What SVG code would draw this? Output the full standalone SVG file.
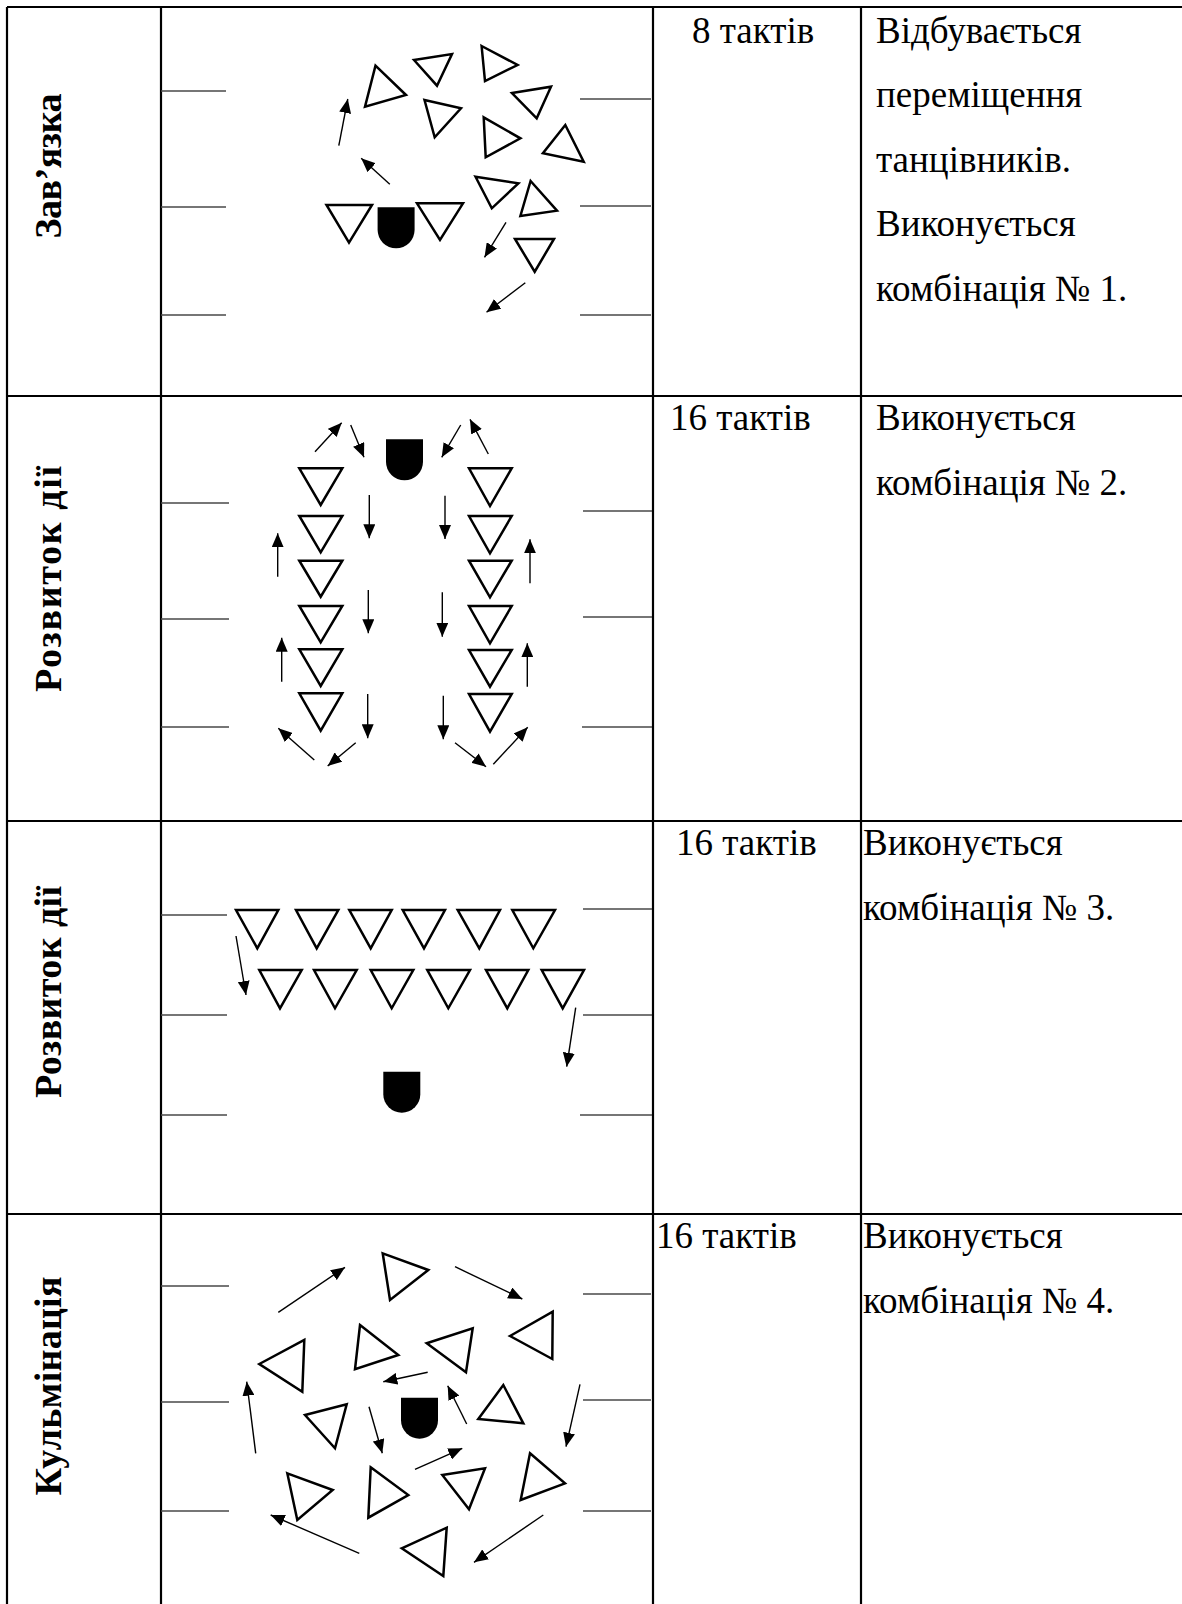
<svg xmlns="http://www.w3.org/2000/svg" width="1182" height="1604" viewBox="0 0 1182 1604">
<style>
.grid{stroke:#000;stroke-width:2.2;fill:none}
.field{stroke:#4a4a4a;stroke-width:1.6;fill:none}
.d{fill:#fff;stroke:#000;stroke-width:2.5;stroke-linejoin:miter}
.u{fill:#000;stroke:none}
.arr{stroke:#000;stroke-width:1.4;fill:none;marker-end:url(#ah)}
.lbl{font-family:"Liberation Serif","Times New Roman",serif;font-weight:bold;font-size:38px;fill:#000}
.txt{font-family:"Liberation Serif","Times New Roman",serif;font-size:37px;fill:#000}
</style>
<defs>
<marker id="ah" viewBox="0 0 14 12" refX="14" refY="6" markerWidth="14" markerHeight="12" markerUnits="userSpaceOnUse" orient="auto">
<path d="M0 0L14 6L0 12Z" fill="#000"/>
</marker>
<path id="ushape" d="M0 0H37V22.5A18.5 18.5 0 0 1 0 22.5Z"/>
</defs>
<rect width="1182" height="1604" fill="#fff"/>
<g id="table">
<path class="grid" d="M7 7H1190M7 396H1190M7 821H1190M7 1214H1190M7 7V1610M161 7V1610M653 7V1610M861 7V1610"/>
</g>
<g id="field-lines">
<path class="field" d="M161 91H226M161 207H226M161 315H226M580 99H651M580 206H651M580 315H651"/>
<path class="field" d="M161 503H229M161 619H229M161 727H229M583 511H652M583 617H652M582 727H652"/>
<path class="field" d="M161 915H227M161 1015H227M161 1115H227M583 909H652M583 1015H652M580 1115H652"/>
<path class="field" d="M161 1286H229M161 1402H229M161 1511H229M583 1294H651M583 1400H651M583 1511H651"/>
</g>
<g id="labels">
<text class="lbl" text-anchor="middle" textLength="145" transform="translate(61,166) rotate(-90)">Зав’язка</text>
<text class="lbl" text-anchor="middle" textLength="226" transform="translate(61,579) rotate(-90)">Розвиток дії</text>
<text class="lbl" text-anchor="middle" textLength="212" transform="translate(61,992) rotate(-90)">Розвиток дії</text>
<text class="lbl" text-anchor="middle" textLength="219" transform="translate(61,1386) rotate(-90)">Кульмінація</text>
</g>
<g id="texts" class="txt">
<text x="692" y="43">8 тактів</text>
<text x="876" y="43">Відбувається</text>
<text x="876" y="107">переміщення</text>
<text x="876" y="172">танцівників.</text>
<text x="876" y="236">Виконується</text>
<text x="876" y="301">комбінація № 1.</text>
<text x="670" y="430">16 тактів</text>
<text x="876" y="430">Виконується</text>
<text x="876" y="495">комбінація № 2.</text>
<text x="676" y="855">16 тактів</text>
<text x="863" y="855">Виконується</text>
<text x="863" y="920">комбінація № 3.</text>
<text x="656" y="1248">16 тактів</text>
<text x="863" y="1248">Виконується</text>
<text x="863" y="1313">комбінація № 4.</text>
</g>
<g id="row1">
<g id="r1-d1"><polygon class="d" points="375.5,65.7 406,95 365,106.7"/></g>
<g id="r1-d2"><polygon class="d" points="414,60 452,54 437,85.7"/></g>
<g id="r1-d3"><polygon class="d" points="481.6,46 517.6,65 485,81"/></g>
<g id="r1-d4"><polygon class="d" points="512,93 551,86.7 536.7,118.3"/></g>
<g id="r1-d5"><polygon class="d" points="424.5,100 461,108.3 434.7,137.3"/></g>
<g id="r1-d6"><polygon class="d" points="483.7,117.3 520.4,138.3 485.7,157.3"/></g>
<g id="r1-d7"><polygon class="d" points="565.3,125 583.7,161.7 542.9,153.3"/></g>
<g id="r1-d8"><polygon class="d" points="475.5,176.7 518.4,183.3 491.8,208.3"/></g>
<g id="r1-d9"><polygon class="d" points="530.6,181 557,210.7 520.4,216"/></g>
<g id="r1-d10"><polygon class="d" points="515,239 554,239 534.7,271.7"/></g>
<g id="r1-d11"><polygon class="d" points="326.5,205 372,205 349,242.7"/></g>
<g id="r1-d12"><polygon class="d" points="417,203.3 463,203.3 440,240"/></g>
<g id="r1-soloist"><use href="#ushape" class="u" x="377.6" y="207.3"/></g>
</g>
<g id="row2">
<g id="r2-l1"><polygon class="d" points="299.3,468.3 342.3,468.3 320.7,505"/></g>
<g id="r2-l2"><polygon class="d" points="299.3,516 342.3,516 320.7,552.3"/></g>
<g id="r2-l3"><polygon class="d" points="299.3,560.7 342.3,560.7 320.7,596.7"/></g>
<g id="r2-l4"><polygon class="d" points="299.3,606 342.3,606 320.7,642.3"/></g>
<g id="r2-l5"><polygon class="d" points="299.3,649.3 342.3,649.3 320.7,686"/></g>
<g id="r2-l6"><polygon class="d" points="299.3,693.3 342.3,693.3 320.7,730.7"/></g>
<g id="r2-r1"><polygon class="d" points="469,468.3 511.7,468.3 490,506"/></g>
<g id="r2-r2"><polygon class="d" points="469,516 511.7,516 490,553.3"/></g>
<g id="r2-r3"><polygon class="d" points="469,560.7 511.7,560.7 490,597.3"/></g>
<g id="r2-r4"><polygon class="d" points="469,606 511.7,606 490,643.3"/></g>
<g id="r2-r5"><polygon class="d" points="469,650 511.7,650 490,686.7"/></g>
<g id="r2-r6"><polygon class="d" points="469,694 511.7,694 490,731.7"/></g>
<g id="r2-soloist"><use href="#ushape" class="u" x="386" y="439.3"/></g>
</g>
<g id="row3">
<g id="r3-a1"><polygon class="d" points="236,910 278.3,910 257.3,948.3"/></g>
<g id="r3-a2"><polygon class="d" points="296,910 338.3,910 316.7,948.3"/></g>
<g id="r3-a3"><polygon class="d" points="349.3,910 391.7,910 370.7,948.3"/></g>
<g id="r3-a4"><polygon class="d" points="402.7,910 445,910 424,948.3"/></g>
<g id="r3-a5"><polygon class="d" points="457.7,910 500,910 479.3,948.3"/></g>
<g id="r3-a6"><polygon class="d" points="512.3,910 555,910 533.3,948.3"/></g>
<g id="r3-b1"><polygon class="d" points="259.3,970 301.7,970 280,1008.3"/></g>
<g id="r3-b2"><polygon class="d" points="314,970 356.7,970 335,1008.3"/></g>
<g id="r3-b3"><polygon class="d" points="370.7,970 413.3,970 391.7,1008.3"/></g>
<g id="r3-b4"><polygon class="d" points="427.3,970 470,970 448.3,1008.3"/></g>
<g id="r3-b5"><polygon class="d" points="486,970 528.3,970 507.3,1008.3"/></g>
<g id="r3-b6"><polygon class="d" points="541.7,970 584,970 562.7,1008.3"/></g>
<g id="r3-soloist"><use href="#ushape" class="u" x="383.3" y="1071.7"/></g>
</g>
<g id="row4">
<g id="r4-d1"><polygon class="d" points="382.7,1253.3 428.3,1270 390,1300"/></g>
<g id="r4-d2"><polygon class="d" points="360,1325 398.3,1355 355,1369.3"/></g>
<g id="r4-d3"><polygon class="d" points="426.7,1343.3 472.7,1328.3 466,1372.3"/></g>
<g id="r4-d4"><polygon class="d" points="510,1336 552.7,1311.7 552.3,1359"/></g>
<g id="r4-d5"><polygon class="d" points="259.3,1364 304.3,1340 302.3,1391.7"/></g>
<g id="r4-d6"><polygon class="d" points="305,1415 346.7,1404.3 335,1448.3"/></g>
<g id="r4-d7"><polygon class="d" points="503.3,1385 523.3,1423.3 478.3,1419"/></g>
<g id="r4-d8"><polygon class="d" points="287.3,1473.3 332.7,1490 297.3,1520"/></g>
<g id="r4-d9"><polygon class="d" points="370.7,1467.3 408.3,1495 368.3,1517.7"/></g>
<g id="r4-d10"><polygon class="d" points="442.3,1475 485,1468.3 469,1509.3"/></g>
<g id="r4-d11"><polygon class="d" points="530,1453.3 565,1483.3 520.7,1500"/></g>
<g id="r4-d12"><polygon class="d" points="401.7,1548.3 446.7,1527.7 443.3,1576"/></g>
<g id="r4-soloist"><use href="#ushape" class="u" x="401" y="1397.7"/></g>
</g>
<g id="connectors">
<line class="arr" x1="338.8" y1="145.7" x2="347.8" y2="99"/>
<line class="arr" x1="389.8" y1="184.3" x2="361.2" y2="158.3"/>
<line class="arr" x1="506" y1="222.3" x2="484.5" y2="257.3"/>
<line class="arr" x1="525.3" y1="282.7" x2="486.5" y2="312.3"/>
<line class="arr" x1="315" y1="451.7" x2="341.7" y2="422.7"/>
<line class="arr" x1="350.7" y1="425" x2="364" y2="457.3"/>
<line class="arr" x1="460.7" y1="425" x2="441.7" y2="457.3"/>
<line class="arr" x1="488.3" y1="454" x2="470" y2="419.3"/>
<line class="arr" x1="369.3" y1="495" x2="369.3" y2="538.3"/>
<line class="arr" x1="445" y1="495.7" x2="445" y2="539"/>
<line class="arr" x1="277.7" y1="576.7" x2="277.7" y2="533.3"/>
<line class="arr" x1="530" y1="583.3" x2="530" y2="539.3"/>
<line class="arr" x1="368.3" y1="590" x2="368.3" y2="633.3"/>
<line class="arr" x1="442.3" y1="592.3" x2="442.3" y2="636.7"/>
<line class="arr" x1="281.7" y1="681.7" x2="281.7" y2="637.7"/>
<line class="arr" x1="527.3" y1="686.7" x2="527.3" y2="643.3"/>
<line class="arr" x1="367.7" y1="694" x2="367.7" y2="738.3"/>
<line class="arr" x1="443.3" y1="695.7" x2="443.3" y2="739.3"/>
<line class="arr" x1="314.3" y1="760" x2="278.3" y2="728.3"/>
<line class="arr" x1="355.7" y1="742.7" x2="327.7" y2="766"/>
<line class="arr" x1="455" y1="742.7" x2="486" y2="766.7"/>
<line class="arr" x1="493.3" y1="764.3" x2="527.7" y2="727.3"/>
<line class="arr" x1="236" y1="936" x2="246" y2="995"/>
<line class="arr" x1="575.7" y1="1007.7" x2="566.7" y2="1066.7"/>
<line class="arr" x1="278.3" y1="1312.3" x2="345" y2="1267.3"/>
<line class="arr" x1="455" y1="1266.7" x2="522.3" y2="1299"/>
<line class="arr" x1="580" y1="1384.3" x2="566" y2="1446.7"/>
<line class="arr" x1="543.3" y1="1515" x2="474" y2="1562.3"/>
<line class="arr" x1="359.3" y1="1553.3" x2="270.7" y2="1515"/>
<line class="arr" x1="255.7" y1="1453.3" x2="246.7" y2="1381.7"/>
<line class="arr" x1="427.7" y1="1372.3" x2="383.3" y2="1381.7"/>
<line class="arr" x1="369" y1="1406.7" x2="382.3" y2="1453.3"/>
<line class="arr" x1="415" y1="1469.3" x2="462.3" y2="1448.3"/>
<line class="arr" x1="466.7" y1="1424" x2="447.7" y2="1385.7"/>
</g>
</svg>
